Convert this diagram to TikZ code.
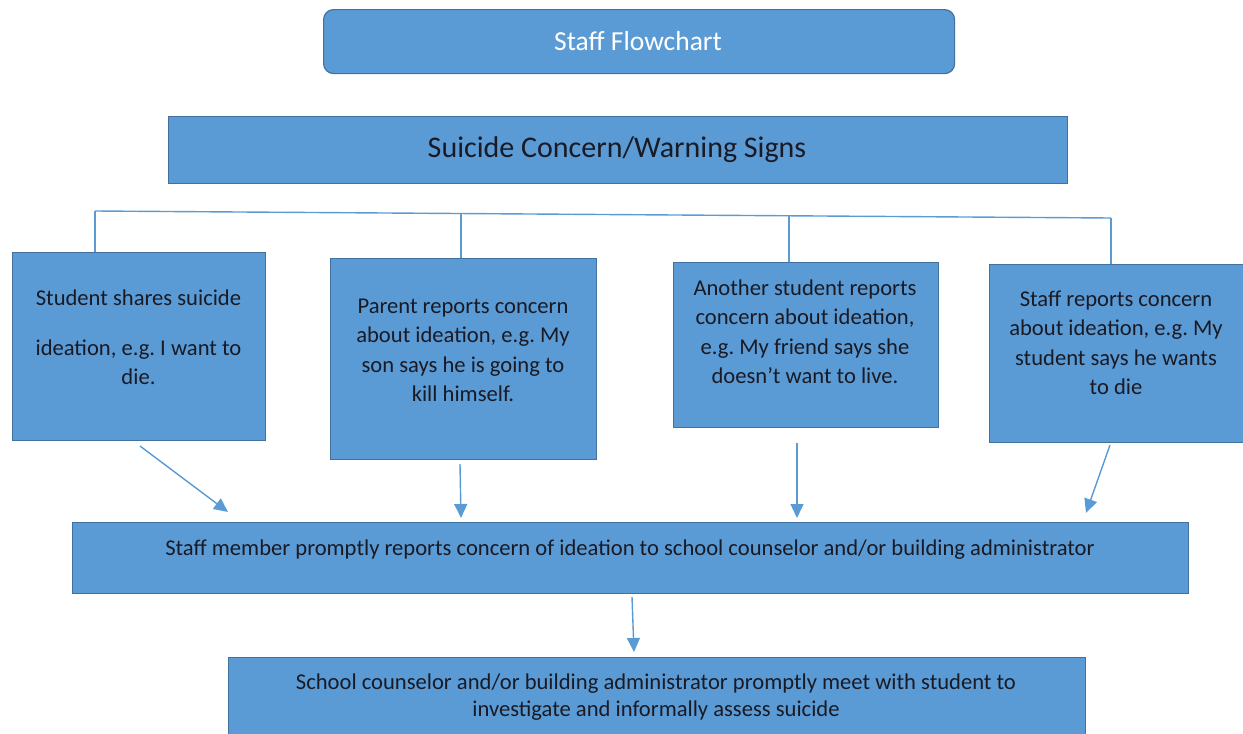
\documentclass[tikz,border=0pt]{standalone}
\usepackage{fontspec}
\setmainfont{Carlito}
\usetikzlibrary{arrows.meta}
\frenchspacing
\definecolor{boxc}{HTML}{5B9BD5}
\definecolor{bordc}{HTML}{41719C}
\definecolor{linec}{HTML}{5B9BD5}
\definecolor{txtc}{HTML}{1A1A24}
\tikzset{
  box/.style={draw=bordc, fill=boxc, line width=1.2pt, anchor=north west, inner sep=0pt},
  txt/.style={align=center, text=txtc, font=\fontsize{22.6}{29.5}\selectfont\frenchspacing, inner sep=0pt},
  conn/.style={draw=linec, line width=1.4pt},
  arr/.style={conn, -{Triangle[width=13pt,length=14pt]}}
}
\begin{document}
\begin{tikzpicture}[x=1pt,y=-1pt]
\useasboundingbox (0,0) rectangle (1243,734);
% title
\node[box, rounded corners=10pt, minimum width=631pt, minimum height=64pt] (title) at (323,9) {};
\node[txt, text=white, font=\fontsize{27.5}{32}\selectfont] (tt) at (638,41) {Staff Flowchart};
% warning signs
\node[box, minimum width=899pt, minimum height=67pt] (warn) at (168,116) {};
\node[txt, font=\fontsize{30}{36}\selectfont] (tw) at (617,150) {Suicide Concern/Warning Signs};
% four boxes
\node[box, minimum width=253pt, minimum height=188pt] (b1) at (12,252) {};
\node[box, minimum width=266pt, minimum height=201pt] (b2) at (330,258) {};
\node[box, minimum width=265pt, minimum height=165pt] (b3) at (673,262) {};
\node[box, minimum width=260pt, minimum height=178pt] (b4) at (989,264) {};
\node[txt] (t1) at (138.5,337) {Student shares suicide\\[20.5pt]ideation, e.g. I want to\\die.};
\node[txt] (t2) at (463,350.5) {Parent reports concern\\about ideation, e.g. My\\son says he is going to\\kill himself.};
\node[txt] (t3) at (805,331.5) {Another student reports\\concern about ideation,\\e.g. My friend says she\\doesn’t want to live.};
\node[txt] (t4) at (1116,343) {Staff reports concern\\about ideation, e.g. My\\student says he wants\\to die};
% staff member box
\node[box, minimum width=1116pt, minimum height=71pt] (sm) at (72,522) {};
\node[txt] (tsm) at (630,550) {Staff member promptly reports concern of ideation to school counselor and/or building administrator};
% bottom box
\node[box, minimum width=857pt, minimum height=90pt] (sc) at (228,657) {};
\node[txt, font=\fontsize{22.6}{27}\selectfont] (tsc) at (656,697.5) {School counselor and/or building administrator promptly meet with student to\\investigate and informally assess suicide};
% tree connector
\coordinate (h1) at (95,211);
\coordinate (h2) at (461,213.5);
\coordinate (h3) at (789,216);
\coordinate (h4) at (1111,218);
\draw[conn] (h1) -- (h4);
\draw[conn] (h1) -- (b1.north west -| h1);
\draw[conn] (h2) -- (b2.north west -| h2);
\draw[conn] (h3) -- (b3.north west -| h3);
\draw[conn] (h4) -- (b4.north west -| h4);
% arrows
\coordinate (a1s) at (140,446); \coordinate (a1e) at (228,512);
\coordinate (a2s) at (460,464); \coordinate (a2e) at (461,518);
\coordinate (a3s) at (797,443); \coordinate (a3e) at (797,518);
\coordinate (a4s) at (1110,445); \coordinate (a4e) at (1086,513);
\coordinate (a5s) at (632,597); \coordinate (a5e) at (634,652);
\draw[arr] (a1s) -- (a1e);
\draw[arr] (a2s) -- (a2e);
\draw[arr] (a3s) -- (a3e);
\draw[arr] (a4s) -- (a4e);
\draw[arr] (a5s) -- (a5e);
\end{tikzpicture}
\end{document}
